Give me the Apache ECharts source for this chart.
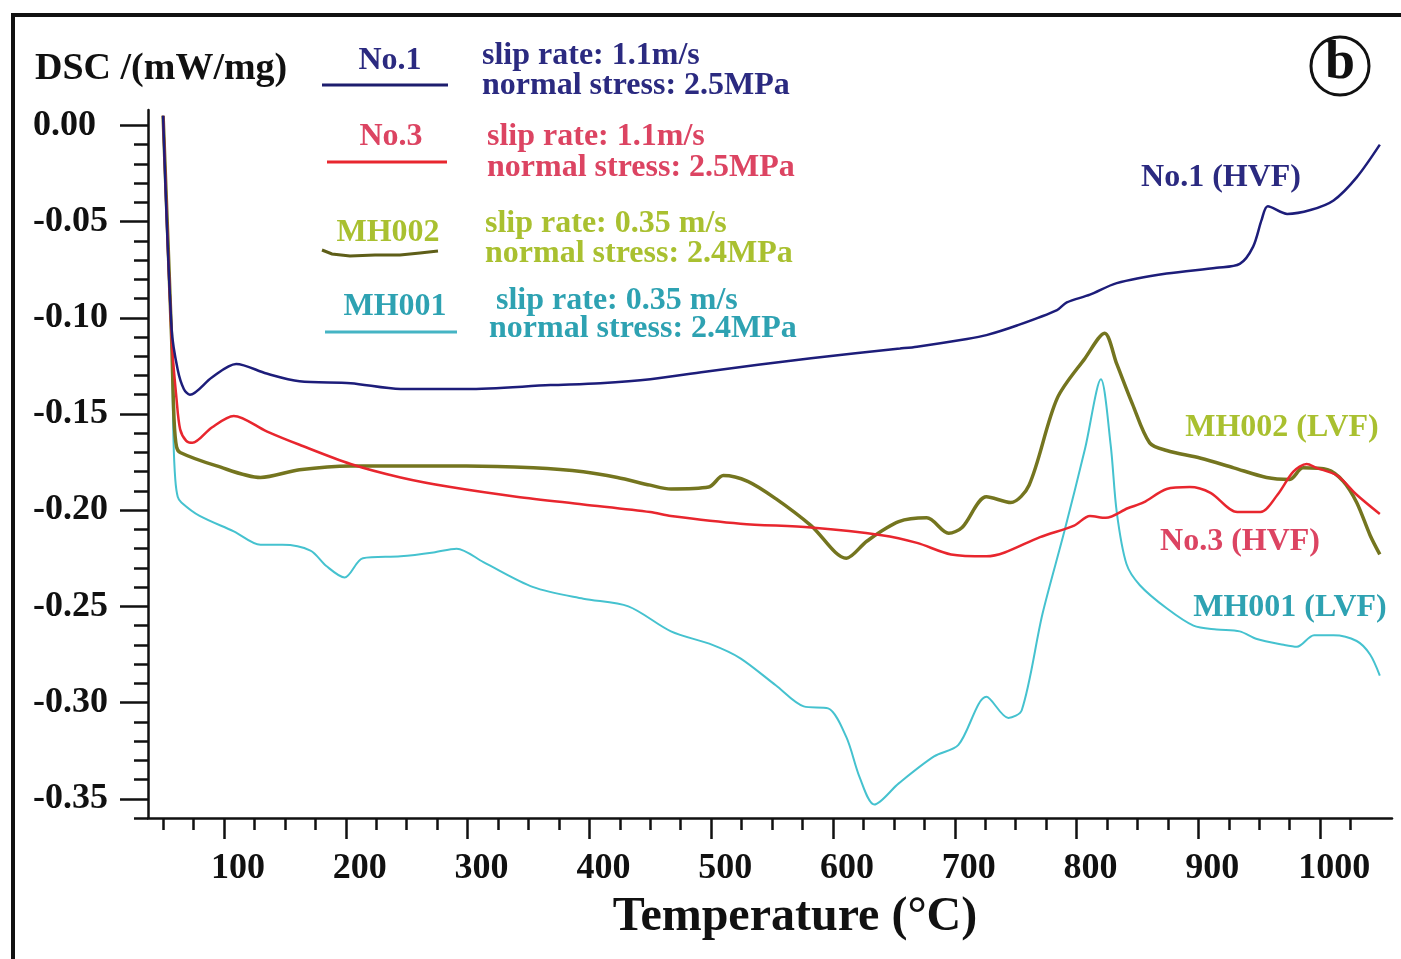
<!DOCTYPE html>
<html lang="en">
<head>
    <meta charset="UTF-8">
    <script type="text/javascript" src="https://cdn.jsdelivr.net/npm/echarts@6.0.0/dist/echarts.min.js"></script>
    <style>
        html, body {
            margin: 0;
            overflow: hidden;
            background: #fff;
        }
        #viewport {
            position: absolute;
            left: 0px;
            top: 0px;
            width: 1401px;
            height: 959px;
        }
    </style>
</head>
<body>
<div id="viewport"></div>
<script>
    // DSC curves, [temperature °C, DSC mW/mg]
    var no1 = [[50,0.005],[57,-0.106],[62,-0.127],[67,-0.137],[72,-0.140],[90,-0.131],[110,-0.124],[135,-0.129],[162,-0.133],[204,-0.134],[245,-0.137],[299,-0.137],[368,-0.135],[409,-0.134],[450,-0.132],[495,-0.128],[582,-0.121],[655,-0.116],[669,-0.115],[710,-0.111],[726,-0.109],[751,-0.104],[784,-0.096],[792,-0.092],[811,-0.088],[833,-0.082],[874,-0.077],[915,-0.074],[934,-0.072],[945,-0.063],[952,-0.049],[957,-0.042],[973,-0.046],[992,-0.044],[1011,-0.039],[1030,-0.027],[1049,-0.010]];

    var no3 = [[50,0.005],[57,-0.111],[61,-0.142],[64,-0.158],[69,-0.164],[74,-0.165],[90,-0.157],[108,-0.151],[135,-0.159],[162,-0.166],[204,-0.176],[245,-0.183],[286,-0.188],[340,-0.193],[395,-0.197],[450,-0.201],[467,-0.203],[524,-0.207],[582,-0.209],[640,-0.213],[669,-0.217],[697,-0.223],[726,-0.224],[741,-0.222],[770,-0.214],[798,-0.208],[811,-0.203],[824,-0.204],[842,-0.199],[855,-0.196],[874,-0.189],[893,-0.188],[910,-0.191],[932,-0.201],[951,-0.201],[965,-0.192],[978,-0.180],[989,-0.176],[997,-0.178],[1014,-0.182],[1030,-0.192],[1049,-0.202]];

    var mh002 = [[50,0.005],[57,-0.111],[59,-0.153],[61,-0.167],[64,-0.170],[94,-0.177],[130,-0.183],[162,-0.179],[204,-0.177],[245,-0.177],[299,-0.177],[354,-0.178],[395,-0.180],[423,-0.183],[450,-0.187],[467,-0.189],[498,-0.188],[510,-0.182],[530,-0.185],[553,-0.194],[582,-0.208],[611,-0.225],[628,-0.216],[654,-0.206],[677,-0.204],[695,-0.212],[706,-0.209],[726,-0.193],[746,-0.196],[761,-0.187],[784,-0.142],[807,-0.121],[823,-0.108],[833,-0.124],[846,-0.145],[860,-0.165],[874,-0.169],[902,-0.173],[929,-0.178],[956,-0.183],[975,-0.184],[986,-0.178],[1006,-0.179],[1019,-0.185],[1030,-0.196],[1041,-0.213],[1049,-0.223]];

    var mh001 = [[50,0.005],[57,-0.111],[58.5,-0.163],[60,-0.184],[62,-0.193],[65,-0.196],[80,-0.203],[108,-0.211],[130,-0.218],[148,-0.218],[171,-0.221],[184,-0.229],[199,-0.235],[214,-0.225],[245,-0.224],[272,-0.222],[291,-0.220],[313,-0.227],[354,-0.240],[395,-0.246],[432,-0.250],[467,-0.263],[501,-0.270],[524,-0.277],[553,-0.291],[576,-0.302],[596,-0.303],[611,-0.318],[622,-0.339],[634,-0.353],[654,-0.342],[683,-0.328],[703,-0.322],[726,-0.297],[744,-0.308],[755,-0.304],[772,-0.254],[790,-0.211],[807,-0.168],[820,-0.132],[828,-0.166],[833,-0.201],[841,-0.228],[852,-0.239],[874,-0.251],[896,-0.260],[915,-0.262],[934,-0.263],[948,-0.267],[970,-0.270],[981,-0.271],[995,-0.265],[1011,-0.265],[1030,-0.268],[1041,-0.275],[1049,-0.286]];

    // ticks
    var xMajor = [100, 200, 300, 400, 500, 600, 700, 800, 900, 1000];
    var xMinor = [50, 75, 125, 150, 175, 225, 250, 275, 325, 350, 375, 425, 450, 475, 525, 550, 575,
        625, 650, 675, 725, 750, 775, 825, 850, 875, 925, 950, 975, 1025];
    var yMajor = [0, -0.05, -0.10, -0.15, -0.20, -0.25, -0.30, -0.35];
    var yMinor = [-0.01, -0.02, -0.03, -0.04, -0.06, -0.07, -0.08, -0.09, -0.11, -0.12, -0.13, -0.14,
        -0.16, -0.17, -0.18, -0.19, -0.21, -0.22, -0.23, -0.24, -0.26, -0.27, -0.28, -0.29,
        -0.31, -0.32, -0.33, -0.34, -0.36];

    var SERIF = '"Liberation Serif", "Times New Roman", serif';
    var INK = '#111';

    var myChart = echarts.init(document.getElementById('viewport'));

    function txt(text, x, y, size, color, align) {
        return {
            type: 'text',
            x: x, y: y,
            style: {
                text: text,
                font: 'bold ' + size + 'px ' + SERIF,
                fill: color,
                align: align || 'center',
                textAlign: align || 'center',
                verticalAlign: 'middle',
                textVerticalAlign: 'middle'
            }
        };
    }
    function seg(x1, y1, x2, y2, color, w) {
        return {
            type: 'line',
            shape: {x1: x1, y1: y1, x2: x2, y2: y2},
            style: {stroke: color, lineWidth: w || 3}
        };
    }

    var minorX = {
        type: 'value', min: 37.6, max: 1059, position: 'bottom',
        axisLine: {show: false, onZero: false},
        axisTick: {customValues: xMinor, length: 12, lineStyle: {color: INK, width: 2.5}},
        axisLabel: {show: false},
        splitLine: {show: false}
    };
    var minorY = {
        type: 'value', min: -0.36, max: 0.008, position: 'left',
        axisLine: {show: false, onZero: false},
        axisTick: {customValues: yMinor, length: 14, lineStyle: {color: INK, width: 2.5}},
        axisLabel: {show: false},
        splitLine: {show: false}
    };

    var option = {
        animation: false,
        backgroundColor: '#fff',
        grid: {left: 148, right: 9, top: 110, bottom: 141},
        xAxis: [{
            type: 'value', min: 37.6, max: 1059, position: 'bottom',
            name: 'Temperature (°C)',
            nameLocation: 'middle',
            nameGap: 76,
            nameTextStyle: {fontFamily: SERIF, fontWeight: 'bold', fontSize: 48, color: INK, padding: [0, 0, 0, 50]},
            axisLine: {onZero: false, lineStyle: {color: INK, width: 2.5}},
            axisTick: {customValues: xMajor, length: 21, lineStyle: {color: INK, width: 2.5}},
            axisLabel: {
                customValues: xMajor, margin: 33,
                fontFamily: SERIF, fontWeight: 'bold', fontSize: 36, color: INK,
                padding: [0, 0, 0, 28],
                formatter: function (v) { return String(v); }
            },
            splitLine: {show: false}
        }, minorX],
        yAxis: [{
            type: 'value', min: -0.36, max: 0.008, position: 'left',
            axisLine: {onZero: false, lineStyle: {color: INK, width: 2.5}},
            axisTick: {customValues: yMajor, length: 28, lineStyle: {color: INK, width: 2.5}},
            axisLabel: {
                customValues: yMajor, margin: 115, align: 'left',
                fontFamily: SERIF, fontWeight: 'bold', fontSize: 36, color: INK,
                padding: [20, 0, 0, 0],
                formatter: function (v) { return v.toFixed(2); }
            },
            splitLine: {show: false}
        }, minorY],
        series: [
            {name: 'MH001', type: 'line', data: mh001, showSymbol: false, smooth: 0.3,
                lineStyle: {color: '#45c2cf', width: 2}},
            {name: 'MH002', type: 'line', data: mh002, showSymbol: false, smooth: 0.3,
                lineStyle: {color: '#74751f', width: 3.5}},
            {name: 'No.3', type: 'line', data: no3, showSymbol: false, smooth: 0.3,
                lineStyle: {color: '#e8262e', width: 2.5}},
            {name: 'No.1', type: 'line', data: no1, showSymbol: false, smooth: 0.3,
                lineStyle: {color: '#1d1d7a', width: 2.5}}
        ],
        graphic: [
            // frame
            {type: 'rect', shape: {x: 13, y: 15, width: 1420, height: 980},
                style: {fill: 'none', stroke: INK, lineWidth: 4}},
            txt('DSC /(mW/mg)', 35, 69, 38, INK, 'left'),

            // legend block
            txt('No.1', 390, 61, 32, '#2b2a80'),
            seg(322, 85, 448, 85, '#1d1d6e'),
            txt('slip rate: 1.1m/s', 482, 56, 32, '#2b2a80', 'left'),
            txt('normal stress: 2.5MPa', 482, 86, 32, '#2b2a80', 'left'),

            txt('No.3', 391, 137, 32, '#dc4462'),
            seg(327, 162, 447, 162, '#e8262e'),
            txt('slip rate: 1.1m/s', 487, 137, 32, '#dc4462', 'left'),
            txt('normal stress: 2.5MPa', 487, 168, 32, '#dc4462', 'left'),

            txt('MH002', 388, 233, 32, '#a9c030'),
            {type: 'polyline', shape: {points: [[322, 250], [332, 254], [350, 256], [375, 255], [400, 255], [420, 253], [438, 251]]},
                style: {stroke: '#5e5e18', lineWidth: 3, fill: 'none'}},
            txt('slip rate: 0.35 m/s', 485, 224, 32, '#a9c030', 'left'),
            txt('normal stress: 2.4MPa', 485, 254, 32, '#a9c030', 'left'),

            txt('MH001', 395, 307, 32, '#2ea2b2'),
            seg(325, 332, 457, 332, '#45b4c4'),
            txt('slip rate: 0.35 m/s', 496, 301, 32, '#2ea2b2', 'left'),
            txt('normal stress: 2.4MPa', 489, 329, 32, '#2ea2b2', 'left'),

            // curve annotations
            txt('No.1 (HVF)', 1221, 178, 32, '#2b2a80'),
            txt('MH002 (LVF)', 1282, 428, 32, '#a9c030'),
            txt('No.3 (HVF)', 1240, 542, 32, '#dc4462'),
            txt('MH001 (LVF)', 1290, 608, 32, '#2ea2b2'),

            // panel mark
            {type: 'circle', shape: {cx: 1340, cy: 66, r: 29},
                style: {fill: 'none', stroke: INK, lineWidth: 3}},
            txt('b', 1340, 64, 54, INK)
        ]
    };

    myChart.setOption(option);
</script>
</body>
</html>
